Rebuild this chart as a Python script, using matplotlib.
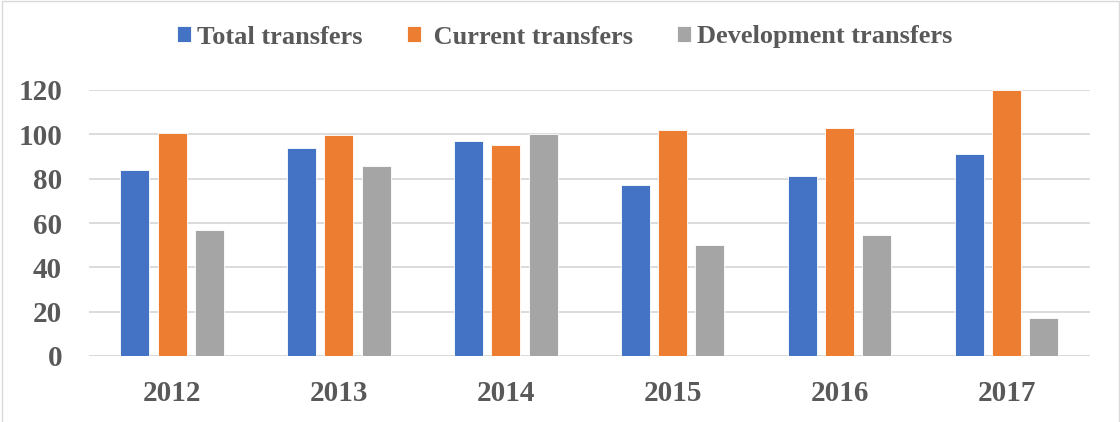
import matplotlib
matplotlib.use("Agg")
import matplotlib.pyplot as plt
from matplotlib.patches import Rectangle
import numpy as np

years = ["2012", "2013", "2014", "2015", "2016", "2017"]
total_transfers = [84, 94, 97, 77, 81, 91]
current_transfers = [100.5, 99.5, 95, 102, 102.7, 120]
development_transfers = [57, 85.5, 100, 50, 54.6, 17]
series_names = ["Total transfers", " Current transfers", "Development transfers"]
y_ticks = [0, 20, 40, 60, 80, 100, 120]

colors = ["#4472C4", "#ED7D31", "#A5A5A5"]
text_color = "#595959"
grid_color = "#D9D9D9"
font = "Liberation Serif"

fig = plt.figure(figsize=(11.2, 4.22), dpi=100)
ax = fig.add_axes([88.6 / 1120, 1 - 356 / 422, (1090 - 88.6) / 1120, (356 - 90) / 422])

x = np.arange(len(years))
width = 0.174
step = 0.223
handles = []
for i, (vals, name, col) in enumerate(zip(
        [total_transfers, current_transfers, development_transfers], series_names, colors)):
    b = ax.bar(x + (i - 1) * step, vals, width, color=col, edgecolor="white",
               linewidth=0.6, label=name, zorder=3)
    handles.append(b)

ax.set_xlim(-0.5, len(years) - 0.5)
ax.set_ylim(0, 120)
ax.set_yticks(y_ticks)
ax.set_xticks(x)
ax.set_xticklabels(years)
ax.yaxis.grid(True, color=grid_color, linewidth=1.3, zorder=0)
ax.set_axisbelow(True)
for s in ["top", "right", "left", "bottom"]:
    ax.spines[s].set_visible(False)
ax.axhline(0, color=grid_color, linewidth=1.3, zorder=2)
ax.tick_params(axis="both", length=0)
ax.tick_params(axis="y", pad=19)
ax.tick_params(axis="x", pad=17)
for lab in ax.get_xticklabels() + ax.get_yticklabels():
    lab.set_fontfamily(font)
    lab.set_fontweight("bold")
    lab.set_fontsize(21)
    lab.set_color(text_color)

leg = fig.legend(handles=handles, loc="center", bbox_to_anchor=(565 / 1120, 1 - 37 / 422),
                 ncol=3, frameon=False, handlelength=0.53, handleheight=0.53,
                 handletextpad=0.23, columnspacing=1.67,
                 prop={"family": font, "weight": "bold", "size": 19})
for t in leg.get_texts():
    t.set_color(text_color)

# light chart-area border
fig.patches.append(Rectangle((2 / 1120, -0.01), 1117 / 1120, 1.0 - 1 / 422 + 0.01,
                             transform=fig.transFigure, fill=False,
                             edgecolor=grid_color, linewidth=1.0))

fig.savefig("out.png", dpi=100, facecolor="white")
